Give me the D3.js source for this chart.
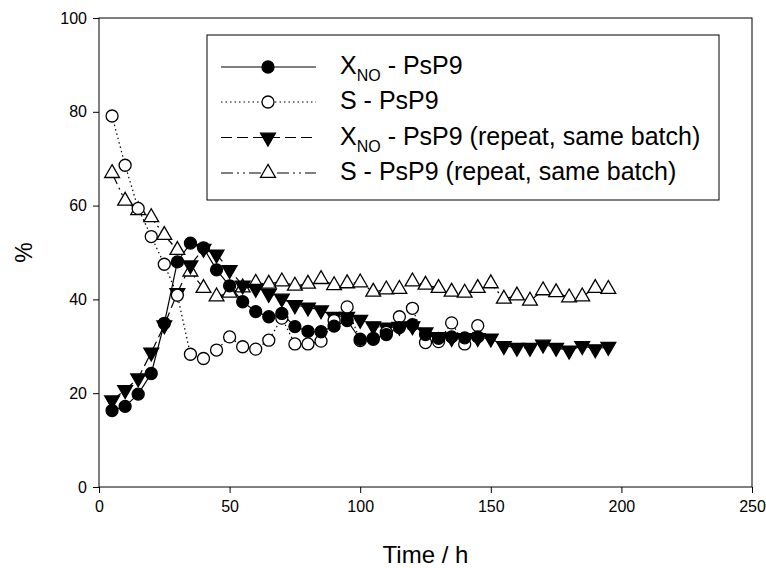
<!DOCTYPE html>
<html><head><meta charset="utf-8">
<script src="https://cdn.jsdelivr.net/npm/d3@7"></script>
<style>body{margin:0;background:#fff}svg{display:block}text{font-family:"Liberation Sans",Arial,sans-serif;fill:#000}</style>
</head><body>
<svg id="c" width="766" height="568"></svg>
<script>
const t1 = [5,10,15,20,25,30,35,40,45,50,55,60,65,70,75,80,85,90,95,100,105,110,115,120,125,130,135,140,145];
const xnoA = [16.3,17.2,19.8,24.2,34.9,48,52,51,46.3,42.9,39.5,37.4,36.3,37,34.2,33.2,33.1,34.3,35.5,31.5,31.5,32.5,34,34.6,32.5,31.7,32,31.8,32];
const sA = [79.1,68.6,59.4,53.4,47.5,40.9,28.3,27.4,29.2,32,29.9,29.4,31.3,36,30.5,30.5,31.1,35.5,38.4,31.2,31.7,33,36.3,38.1,30.8,31,35,30.5,34.4];
const t2 = [5,10,15,20,25,30,35,40,45,50,55,60,65,70,75,80,85,90,95,100,105,110,115,120,125,130,135,140,145,150,155,160,165,170,175,180,185,190,195];
const xnoB = [18.5,20.7,23.2,28.7,34.5,41.4,47.3,50.8,49.6,46.3,43,42.3,41.2,40.2,38.8,38.3,37.7,36.3,36.3,35.7,34.3,34,34.2,34.3,33,32,31.8,31.8,31.8,31.7,30.1,29.7,29.7,30.4,29.7,29.1,30.1,29.4,29.9];
const sB = [66.9,61,59,57.5,53.7,50.5,45.9,42.4,40.6,41.4,42.5,43.5,43.3,43.8,42.9,43.3,44.3,43,43.4,43.6,41.6,42.1,42.2,43.8,43.1,42.4,41.6,41.4,42.4,43.4,40.1,40.8,39.7,41.9,41.5,40.4,40.6,42.4,42.2];
const xTicks = [0,50,100,150,200,250];
const yTicks = [0,20,40,60,80,100];
const xLabel = "Time / h";
const yLabel = "%";
const legendMain = ["X", "S - PsP9", "X", "S - PsP9 (repeat, same batch)"];
const legendSub = ["NO", "", "NO", ""];
const legendRest = [" - PsP9", "", " - PsP9 (repeat, same batch)", ""];

const svg = d3.select("#c");
const L = 99, R = 752, T = 18, B = 487;
const x = d3.scaleLinear().domain([0,250]).range([L,R]);
const y = d3.scaleLinear().domain([0,100]).range([B,T]);

const series = [
  {t:t2, v:sB, dash:"12,4,2,4,2,4", sym:"tri", fill:"#fff"},
  {t:t2, v:xnoB, dash:"11,5", sym:"tridown", fill:"#000"},
  {t:t1, v:sA, dash:"1.5,3", sym:"circle", fill:"#fff"},
  {t:t1, v:xnoA, dash:null, sym:"circle", fill:"#000"}
];
const legendOrder = [3,2,1,0];

function marker(g, sym, fill, cx, cy) {
  if (sym === "circle") {
    g.append("circle").attr("cx",cx).attr("cy",cy).attr("r",6)
      .attr("fill",fill).attr("stroke","#000").attr("stroke-width",1.3);
  } else {
    const p = d3.symbol().type(d3.symbolTriangle).size(95)();
    g.append("path").attr("d",p)
      .attr("transform",`translate(${cx},${cy})` + (sym==="tridown"?" rotate(180)":""))
      .attr("fill",fill).attr("stroke","#000").attr("stroke-width",1.3);
  }
}

// lines
const line = d3.line().x(d=>x(d[0])).y(d=>y(d[1]));
series.forEach(s=>{
  const pts = s.t.map((t,i)=>[t,s.v[i]]);
  svg.append("path").attr("d",line(pts)).attr("fill","none")
    .attr("stroke","#000").attr("stroke-width",1.2)
    .attr("stroke-dasharray",s.dash);
});
// markers
series.forEach(s=>{
  const g = svg.append("g");
  s.t.forEach((t,i)=>marker(g,s.sym,s.fill,x(t),y(s.v[i])));
});

// axes
const xa = svg.append("g").attr("transform",`translate(0,${B})`)
  .call(d3.axisBottom(x).tickValues(xTicks).tickSize(6).tickPadding(8).tickFormat(d3.format("d")));
const ya = svg.append("g").attr("transform",`translate(${L},0)`)
  .call(d3.axisLeft(y).tickValues(yTicks).tickSize(6).tickPadding(6).tickFormat(d3.format("d")));
[xa,ya].forEach(a=>{
  a.select(".domain").remove();
  a.selectAll("line").attr("stroke","#000");
  a.selectAll("text").style("font-size","16px").attr("fill","#000").style("font-family",'"Liberation Sans",Arial,sans-serif');
});
// frame
svg.append("rect").attr("x",L).attr("y",T).attr("width",R-L).attr("height",B-T)
  .attr("fill","none").attr("stroke","#000").attr("stroke-width",1);

svg.append("text").attr("x",(L+R)/2).attr("y",563).attr("text-anchor","middle")
  .style("font-size","24px").text(xLabel);
svg.append("text").attr("transform",`translate(32,${(T+B)/2}) rotate(-90)`).attr("text-anchor","middle")
  .style("font-size","23px").text(yLabel);

// legend
const lg = svg.append("g");
lg.append("rect").attr("x",207).attr("y",35).attr("width",512).attr("height",165)
  .attr("fill","#fff").attr("stroke","#000").attr("stroke-width",1);
const rowY = [67,102,137.5,173];
legendOrder.forEach((si,k)=>{
  const s = series[si];
  const cy = rowY[k];
  lg.append("line").attr("x1",221).attr("x2",316).attr("y1",cy).attr("y2",cy)
    .attr("stroke","#000").attr("stroke-width",1.2).attr("stroke-dasharray",s.dash);
  marker(lg,s.sym,s.fill,268,cy);
  const tx = lg.append("text").attr("x",340).attr("y",cy+7).style("font-size","25px");
  tx.append("tspan").text(legendMain[k]);
  if (legendSub[k]) {
    tx.append("tspan").attr("dy",7).style("font-size","16px").text(legendSub[k]);
    tx.append("tspan").attr("dy",-7).text(legendRest[k]);
  }
});
</script>
</body></html>
